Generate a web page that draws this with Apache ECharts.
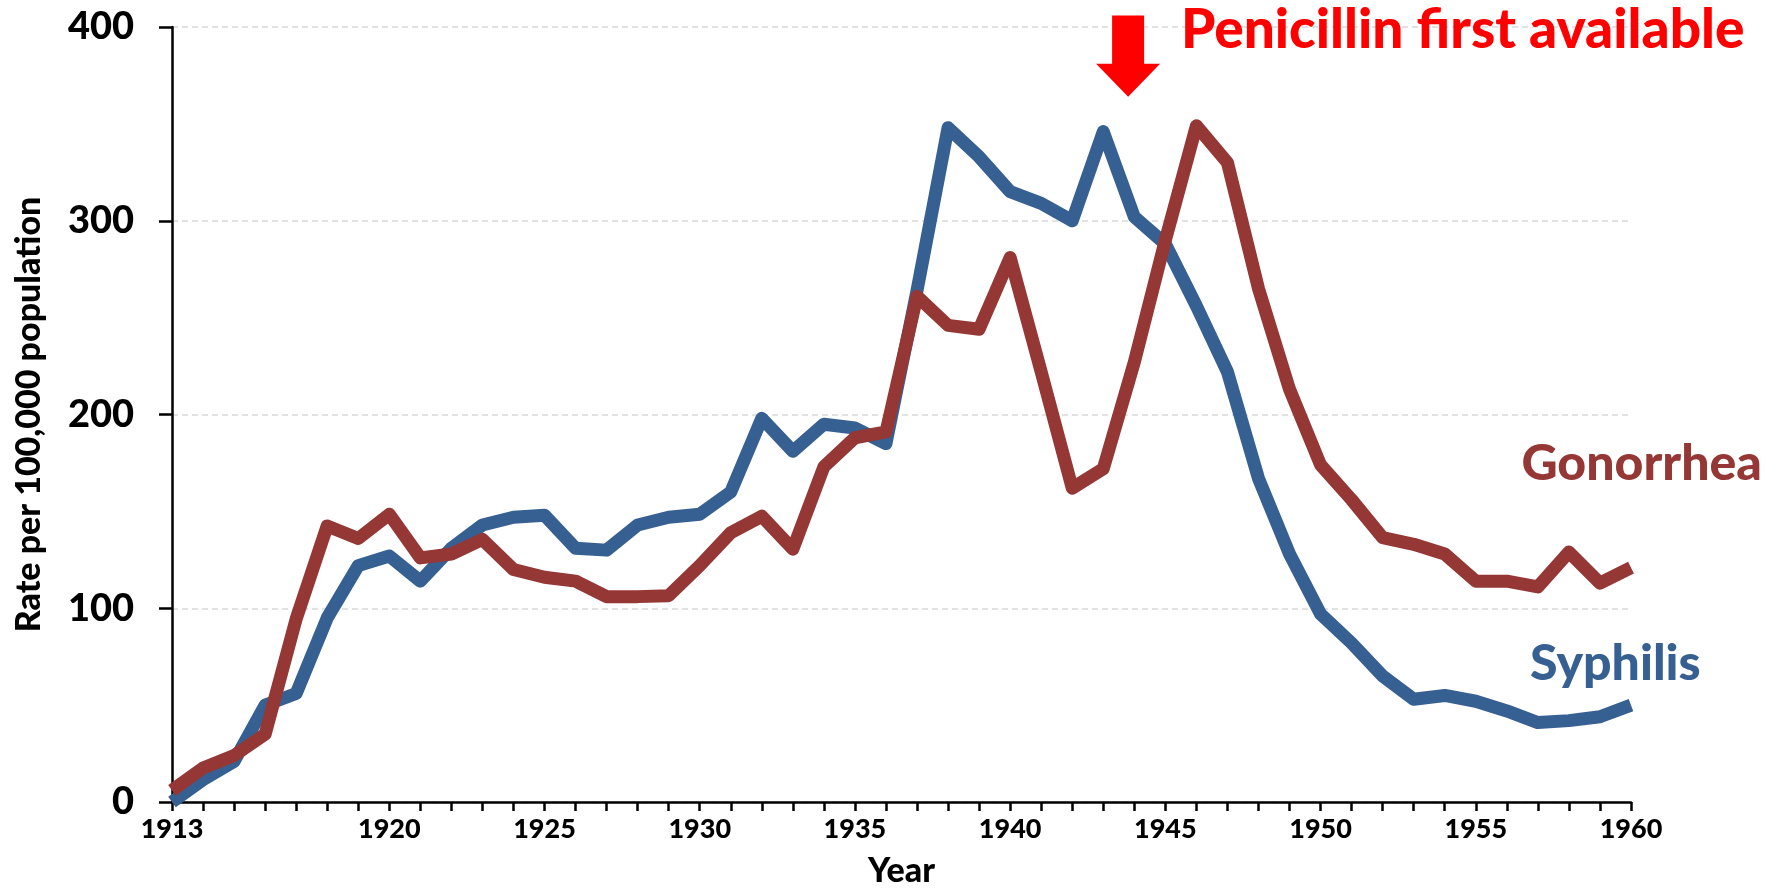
<!DOCTYPE html>
<html>
<head>
<meta charset="utf-8">
<script src="https://cdn.jsdelivr.net/npm/echarts@6/dist/echarts.min.js"></script>
<style>
  html, body { margin: 0; padding: 0; background: #fff; }
  #chart { width: 1777px; height: 893px; }
</style>
</head>
<body>
<div id="chart"></div>
<script>
// Reported cases per 100,000 population, US 1913-1960
const years = [
  1913, 1914, 1915, 1916, 1917, 1918, 1919, 1920, 1921, 1922, 1923, 1924,
  1925, 1926, 1927, 1928, 1929, 1930, 1931, 1932, 1933, 1934, 1935, 1936,
  1937, 1938, 1939, 1940, 1941, 1942, 1943, 1944, 1945, 1946, 1947, 1948,
  1949, 1950, 1951, 1952, 1953, 1954, 1955, 1956, 1957, 1958, 1959, 1960
];
const syphilis = [
  0, 11.5, 21, 50, 56, 95, 122, 127, 114, 131, 143, 147,
  148, 131, 130, 143, 147, 148.5, 160, 198, 181, 195, 193, 185,
  264, 348, 333, 315, 309, 300, 346, 302, 288, 256, 222, 167,
  128, 97, 82, 65, 53, 55, 52, 47, 41, 42, 44, 50
];
const gonorrhea = [
  6, 17.5, 24, 35, 94.5, 142.5, 136, 148.5, 126, 128, 135.5, 120,
  116, 114, 106, 106, 106.5, 122, 139, 147.5, 130.5, 173, 188, 191,
  261, 246, 244, 281, 222, 162, 172, 227, 290, 349, 330, 265,
  213, 174, 156, 136.5, 133, 128, 114, 114, 111, 129, 113, 121
];
const yTicks = [0, 100, 200, 300, 400];
const xLabelYears = [1913, 1920, 1925, 1930, 1935, 1940, 1945, 1950, 1955, 1960];

const BLUE = '#376092';
const RED = '#953735';
const FONT = 'Lato, "Open Sans", sans-serif';

const chart = echarts.init(document.getElementById('chart'));

const toPairs = (vals) => years.map((y, i) => [y, vals[i]]);

chart.setOption({
  animation: false,
  backgroundColor: '#fff',
  grid: { left: 172, right: 146, top: 27, bottom: 87 },
  xAxis: {
    type: 'value',
    min: years[0],
    max: years[years.length - 1],
    interval: 1,
    name: 'Year',
    nameLocation: 'middle',
    nameGap: 52,
    nameTextStyle: { fontFamily: FONT, fontWeight: 900, fontSize: 34, color: '#000' },
    axisLine: { show: true, lineStyle: { color: '#000', width: 2.5 } },
    axisTick: { show: true, inside: false, length: 9, lineStyle: { color: '#000', width: 2.5 } },
    axisLabel: {
      margin: 14,
      fontFamily: FONT, fontWeight: 900, fontSize: 27, color: '#000',
      formatter: (v) => (xLabelYears.includes(v) ? String(v) : '')
    },
    splitLine: { show: false }
  },
  yAxis: {
    type: 'value',
    min: yTicks[0],
    max: yTicks[yTicks.length - 1],
    interval: 100,
    name: 'Rate per 100,000 population',
    nameLocation: 'middle',
    nameGap: 126,
    nameTextStyle: { fontFamily: FONT, fontWeight: 900, fontSize: 34, color: '#000' },
    axisLine: { show: true, lineStyle: { color: '#000', width: 2.5 } },
    axisTick: { show: true, inside: false, length: 13, lineStyle: { color: '#000', width: 2.5 } },
    axisLabel: { margin: 38, fontFamily: FONT, fontWeight: 900, fontSize: 38, color: '#000' },
    splitLine: { show: true, lineStyle: { color: '#d9d9d9', width: 1.5, type: [6, 4] } }
  },
  series: [
    {
      name: 'Syphilis',
      type: 'line',
      data: toPairs(syphilis),
      symbol: 'none',
      lineStyle: { color: BLUE, width: 13, join: 'round', cap: 'butt' },
      z: 2
    },
    {
      name: 'Gonorrhea',
      type: 'line',
      data: toPairs(gonorrhea),
      symbol: 'none',
      lineStyle: { color: RED, width: 13, join: 'round', cap: 'butt' },
      z: 3
    }
  ]
});

// annotations anchored to data coordinates
const px = (x, y) => chart.convertToPixel({ gridIndex: 0 }, [x, y]);
const arrowYear = 1943.8;
const arrowTop = px(arrowYear, 406);
const arrowNeck = px(arrowYear, 381);
const arrowTip = px(arrowYear, 364);
const shaftHalf = 16;
const headHalf = 32;

const penicillinAt = px(1945.5, 398.5);
const gonoAt = px(1956.47, 174.5);
const syphAt = px(1956.75, 71.3);

chart.setOption({
  graphic: [
    {
      type: 'polygon',
      shape: {
        points: [
          [arrowTop[0] - shaftHalf, arrowTop[1]], [arrowTop[0] + shaftHalf, arrowTop[1]],
          [arrowNeck[0] + shaftHalf, arrowNeck[1]], [arrowNeck[0] + headHalf, arrowNeck[1]],
          [arrowTip[0], arrowTip[1]],
          [arrowNeck[0] - headHalf, arrowNeck[1]], [arrowNeck[0] - shaftHalf, arrowNeck[1]]
        ]
      },
      style: { fill: '#ff0000' }
    },
    {
      type: 'text',
      x: penicillinAt[0], y: penicillinAt[1],
      style: {
        text: 'Penicillin first available',
        fill: '#ff0000',
        font: '900 55px ' + FONT,
        textAlign: 'left', textVerticalAlign: 'middle'
      }
    },
    {
      type: 'text',
      x: gonoAt[0], y: gonoAt[1],
      style: {
        text: 'Gonorrhea', fill: RED, font: '900 50px ' + FONT,
        textAlign: 'left', textVerticalAlign: 'middle'
      }
    },
    {
      type: 'text',
      x: syphAt[0], y: syphAt[1],
      style: {
        text: 'Syphilis', fill: BLUE, font: '900 50px ' + FONT,
        textAlign: 'left', textVerticalAlign: 'middle'
      }
    }
  ]
});
</script>
</body>
</html>
